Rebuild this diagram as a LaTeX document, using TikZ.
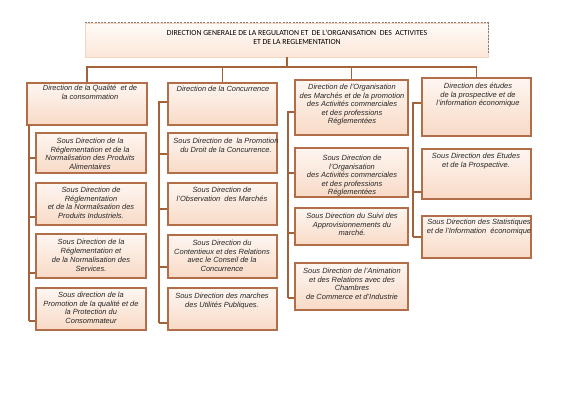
\documentclass[tikz,border=0pt]{standalone}
\usepackage{fontspec}
\setmainfont{Liberation Sans}
\newfontfamily\titlefont{Carlito}
\usetikzlibrary{fit}
\definecolor{brd}{HTML}{B26E48}
\definecolor{fillA}{HTML}{FEF6F1}
\definecolor{fillB}{HTML}{F8DAC6}
\definecolor{lineC}{HTML}{A4623A}
\definecolor{shad}{HTML}{7E7E7E}
\definecolor{tfillA}{HTML}{FFFBF8}
\definecolor{tfillB}{HTML}{FCE6D8}
\definecolor{tbrd}{HTML}{F3D4C0}
\tikzset{
  box/.style={draw=brd, line width=1.1bp, top color=fillA, bottom color=fillB, rectangle, inner sep=0pt},
  tbox/.style={draw=tbrd, line width=0.8bp, top color=tfillA, bottom color=tfillB, rectangle, inner sep=0pt},
  txt/.style={font=\fontsize{7.5}{8.5}\selectfont\itshape, align=center, inner sep=0pt, anchor=north, text=black!85},
  ttxt/.style={font=\titlefont\fontsize{7.8}{8.2}\selectfont, align=center, inner sep=0pt, anchor=north, text=black},
  conn/.style={draw=lineC, line width=1.1bp},
  shadowline/.style={draw=shad, line width=1.5bp, dash pattern=on 2bp off 1.3bp},
}
\newcommand{\bx}[5]{\node[box, fit={(#2,#3)(#4,#5)}] (#1) {};}
\begin{document}
\begin{tikzpicture}[x=1bp,y=-1bp]
\useasboundingbox (0,0) rectangle (566,400);
\fill[white] (0,0) rectangle (566,400);

% title
\node[tbox, fit={(85,23)(488,57)}] (title) {};
\draw[shadowline] (title.north west) -- (title.north east) -- ([yshift=3bp]title.south east);
\node[ttxt] (ttl) at (297,30.5) {DIRECTION GENERALE DE LA REGULATION ET\ \ DE L'ORGANISATION\ \ DES\ \ ACTIVITES\\ET DE LA REGLEMENTATION};

% directions
\bx{d1}{27}{83}{147}{125}
\bx{d2}{168}{83}{277}{125}
\bx{d3}{295}{80}{408}{135}
\bx{d4}{422}{78}{531}{136}

% column 1 subs
\bx{s11}{36}{133}{146}{173}
\bx{s12}{36}{183}{146}{225}
\bx{s13}{36}{234}{146}{278}
\bx{s14}{36}{288}{146}{330}
% column 2 subs
\bx{s21}{168}{133}{277}{173}
\bx{s22}{168}{183}{277}{225}
\bx{s23}{168}{235}{277}{278}
\bx{s24}{168}{288}{277}{330}
% column 3 subs
\bx{s31}{295}{148}{408}{197}
\bx{s32}{295}{208}{408}{245}
\bx{s33}{295}{263}{408}{310}
% column 4 subs
\bx{s41}{422}{149}{531}{199}
\bx{s42}{422}{216}{531}{258}

% texts
\node[txt] (td1) at (90,85) {Direction de la Qualité\ \ et de\\la consommation};
\node[txt] (ts11) at (90,138) {Sous Direction de la\\Réglementation et de la\\Normalisation des Produits\\Alimentaires};
\node[txt] (ts12) at (91,187) {Sous Direction de\\Réglementation\\et de la Normalisation des\\Produits Industriels.};
\node[txt,font=\fontsize{7.5}{9}\selectfont\itshape] (ts13) at (91,239) {Sous Direction de la\\Réglementation et\\de la Normalisation des\\Services.};
\node[txt] (ts14) at (91,292) {Sous direction de la\\Promotion de la qualité et de\\la Protection du\\Consommateur};

\node[txt] (td2) at (223,86) {Direction de la Concurrence};
\node[txt] (ts21) at (226,138) {Sous Direction de\ \ la Promotion\\du Droit de la Concurrence.};
\node[txt] (ts22) at (222,187) {Sous Direction de\\l'Observation\ \ des Marchés};
\node[txt] (ts23) at (222,240) {Sous Direction du\\Contentieux et des Relations\\avec le Conseil de la\\Concurrence};
\node[txt] (ts24) at (222,293) {Sous Direction des marches\\des Utilités Publiques.};

\node[txt] (td3) at (352,84) {Direction de l'Organisation\\des Marchés et de la promotion\\des Activités commerciales\\et des professions\\Réglementées};
\node[txt] (ts31) at (352,155) {Sous Direction de\\l'Organisation\\des Activités commerciales\\et des professions\\Réglementées};
\node[txt] (ts32) at (352,213) {Sous Direction du Suivi des\\Approvisionnements du\\marché.};
\node[txt] (ts33) at (352,268) {Sous Direction de l'Animation\\et des Relations avec des\\Chambres\\de Commerce et d'Industrie};

\node[txt] (td4) at (478,83) {Direction des études\\de la prospective et de\\l'information économique};
\node[txt] (ts41) at (476,153) {Sous Direction des Etudes\\et de la Prospective.};
\node[txt] (ts42) at (479,219) {Sous Direction des Statistiques\\et de l'Information\ \ économique};

% top connectors
\coordinate (hub) at (287,67);
\draw[conn] (title.south -| hub) -- (hub);
\draw[conn] (d1.north) |- (hub) -| (d4.north);
\draw[conn] (d2.north) -- (d2.north |- hub);
\draw[conn] (d3.north) -- (d3.north |- hub);

% column 1 spine
\coordinate (c1top) at (29,125);
\coordinate (c1a) at (29,158);
\coordinate (c1b) at (29,217);
\coordinate (c1c) at (29,273);
\coordinate (c1d) at (29,321);
\draw[conn] (c1top) -- (c1d);
\draw[conn] (c1a) -- (s11.west |- c1a);
\draw[conn] (c1b) -- (s12.west |- c1b);
\draw[conn] (c1c) -- (s13.west |- c1c);
\draw[conn] (c1d) -- (s14.west |- c1d);

% column 2 spine
\coordinate (c2top) at (159,102);
\coordinate (c2a) at (159,154);
\coordinate (c2b) at (159,209);
\coordinate (c2c) at (159,267);
\coordinate (c2d) at (159,323);
\draw[conn] (d2.west |- c2top) -- (c2top) -- (c2d);
\draw[conn] (c2a) -- (s21.west |- c2a);
\draw[conn] (c2b) -- (s22.west |- c2b);
\draw[conn] (c2c) -- (s23.west |- c2c);
\draw[conn] (c2d) -- (s24.west |- c2d);

% column 3 spine
\coordinate (c3top) at (288,112);
\coordinate (c3a) at (288,173);
\coordinate (c3b) at (288,233);
\coordinate (c3c) at (288,298);
\draw[conn] (d3.west |- c3top) -- (c3top) -- (c3c);
\draw[conn] (c3a) -- (s31.west |- c3a);
\draw[conn] (c3b) -- (s32.west |- c3b);
\draw[conn] (c3c) -- (s33.west |- c3c);

% column 4 spine
\coordinate (c4top) at (413,103);
\coordinate (c4a) at (413,192);
\coordinate (c4b) at (413,237);
\draw[conn] (d4.west |- c4top) -- (c4top) -- (c4b);
\draw[conn] (c4a) -- (s41.west |- c4a);
\draw[conn] (c4b) -- (s42.west |- c4b);
\end{tikzpicture}
\end{document}
